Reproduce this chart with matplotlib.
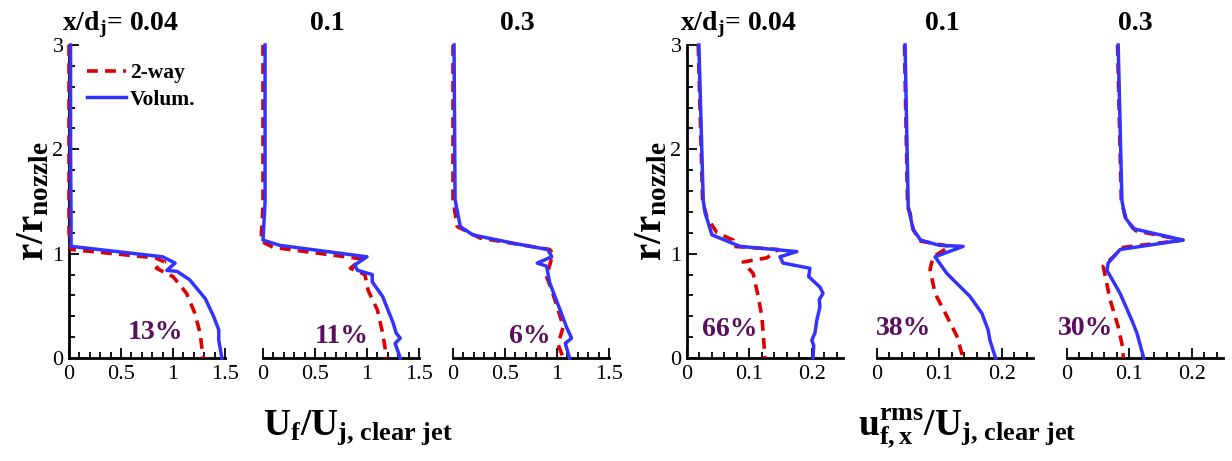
import numpy as np
import matplotlib
matplotlib.use("Agg")
from matplotlib import pyplot as plt
from matplotlib.ticker import MultipleLocator

plt.rcParams['font.family'] = ['Liberation Serif', 'DejaVu Serif']
plt.rcParams['mathtext.fontset'] = 'custom'
plt.rcParams['mathtext.rm'] = 'Liberation Serif:bold'
plt.rcParams['mathtext.it'] = 'Liberation Serif:bold'
plt.rcParams['mathtext.bf'] = 'Liberation Serif:bold'
plt.rcParams['mathtext.default'] = 'regular'

# stations x/d_j
stations = ['0.04', '0.1', '0.3']

# mean velocity U_f/U_j (value, r/r_nozzle)
mean_004_twoway = [(0.0, 3.0), (0.0, 1.2), (0.02, 1.04), (0.83, 0.96), (0.92, 0.92), (0.84, 0.86),
                   (1.0, 0.78), (1.13, 0.62), (1.21, 0.43), (1.26, 0.24), (1.29, 0.0)]
mean_004_volum = [(0.015, 3.0), (0.015, 2.0), (0.02, 1.3), (0.02, 1.07), (0.90, 0.97), (1.02, 0.91),
                  (0.94, 0.84), (1.04, 0.83), (1.16, 0.75), (1.31, 0.57), (1.39, 0.40), (1.44, 0.27),
                  (1.44, 0.17), (1.47, 0.0)]
mean_01_twoway = [(0.0, 3.0), (0.0, 1.45), (-0.02, 1.12), (0.1, 1.06), (0.95, 0.95), (0.84, 0.86),
                  (0.98, 0.80), (1.01, 0.65), (1.10, 0.46), (1.15, 0.24), (1.19, 0.0)]
mean_01_volum = [(0.02, 3.0), (0.02, 1.5), (0.0, 1.13), (0.16, 1.08), (1.0, 0.97), (0.88, 0.89),
                 (0.91, 0.84), (1.05, 0.80), (1.05, 0.73), (1.15, 0.59), (1.19, 0.49), (1.25, 0.34),
                 (1.28, 0.24), (1.32, 0.19), (1.27, 0.14), (1.32, 0.0)]
mean_03_twoway = [(0.0, 3.0), (0.0, 1.52), (0.04, 1.26), (0.26, 1.15), (0.93, 1.04), (0.96, 1.0),
                  (0.90, 0.78), (0.95, 0.65), (1.03, 0.40), (1.06, 0.30), (1.01, 0.13), (1.06, 0.0)]
mean_03_volum = [(0.01, 3.0), (0.02, 1.52), (0.07, 1.26), (0.19, 1.18), (0.58, 1.10), (0.91, 1.04),
                 (0.95, 0.97), (0.81, 0.91), (0.90, 0.88), (0.93, 0.72), (0.98, 0.59), (1.03, 0.46),
                 (1.09, 0.30), (1.14, 0.19), (1.08, 0.14), (1.12, 0.0)]

# rms velocity u_f,x^rms/U_j
rms_004_twoway = [(0.018, 3.0), (0.025, 1.5), (0.032, 1.35), (0.048, 1.2), (0.074, 1.13), (0.074, 1.07),
                  (0.146, 1.04), (0.128, 0.96), (0.09, 0.92), (0.106, 0.81), (0.113, 0.62),
                  (0.12, 0.40), (0.122, 0.24), (0.125, 0.0)]
rms_004_volum = [(0.019, 3.0), (0.026, 1.51), (0.029, 1.39), (0.040, 1.18), (0.085, 1.07), (0.176, 1.02),
                 (0.149, 0.97), (0.154, 0.91), (0.197, 0.86), (0.195, 0.78), (0.213, 0.68),
                 (0.218, 0.62), (0.212, 0.56), (0.213, 0.49), (0.208, 0.36), (0.205, 0.24),
                 (0.200, 0.17), (0.203, 0.12), (0.202, 0.0)]
rms_01_twoway = [(0.044, 3.0), (0.049, 1.45), (0.053, 1.39), (0.058, 1.23), (0.07, 1.12), (0.117, 1.07),
                 (0.09, 0.97), (0.085, 0.85), (0.093, 0.62), (0.112, 0.40), (0.128, 0.21), (0.138, 0.0)]
rms_01_volum = [(0.045, 3.0), (0.050, 1.45), (0.058, 1.23), (0.07, 1.13), (0.10, 1.08), (0.138, 1.07),
                (0.093, 0.97), (0.112, 0.81), (0.117, 0.78), (0.149, 0.59), (0.168, 0.43),
                (0.178, 0.27), (0.181, 0.17), (0.190, 0.0)]
rms_03_twoway = [(0.081, 3.0), (0.087, 1.5), (0.095, 1.33), (0.11, 1.22), (0.186, 1.13), (0.09, 1.06),
                 (0.058, 0.88), (0.069, 0.56), (0.082, 0.30), (0.09, 0.08), (0.09, 0.0)]
rms_03_volum = [(0.082, 3.0), (0.088, 1.51), (0.093, 1.35), (0.106, 1.24), (0.186, 1.13), (0.085, 1.04),
                (0.066, 0.91), (0.064, 0.84), (0.085, 0.62), (0.104, 0.36), (0.112, 0.24), (0.123, 0.0)]

mean_pct = ['13%', '11%', '6%']
rms_pct = ['66%', '38%', '30%']
mean_pct_pos = [(0.83, 0.24), (0.76, 0.21), (0.74, 0.21)]
rms_pct_pos = [(0.069, 0.27), (0.042, 0.28), (0.029, 0.28)]

mean_ticks = [0, 0.5, 1, 1.5]
mean_ticklabels = ['0', '0.5', '1', '1.5']
rms_ticks = [0, 0.1, 0.2]
rms_ticklabels = ['0', '0.1', '0.2']
r_ticks = [0, 1, 2, 3]

W, H = 1232, 461
fig = plt.figure(figsize=(W / 100, H / 100), dpi=100)

RED = '#dd0000'
BLUE = '#3333ff'
PURPLE = '#5a0f5e'

lefts = [69, 263, 453, 687, 877, 1067]
title_x = [0.33, 0.41, 0.41, 0.33, 0.42, 0.44]
ax_w, y_top, y_bot = 156, 45, 358

groups = [
    (mean_004_twoway, mean_004_volum), (mean_01_twoway, mean_01_volum), (mean_03_twoway, mean_03_volum),
    (rms_004_twoway, rms_004_volum), (rms_01_twoway, rms_01_volum), (rms_03_twoway, rms_03_volum),
]

axes = []
for i, (two, vol) in enumerate(groups):
    ax = fig.add_axes([lefts[i] / W, (H - y_bot) / H, ax_w / W, (y_bot - y_top) / H])
    axes.append(ax)
    two = np.array(two)
    vol = np.array(vol)
    ax.plot(two[:, 0], two[:, 1], color=RED, lw=2.6, ls=(0, (3, 2)), clip_on=False, zorder=3, label='2-way')
    ax.plot(vol[:, 0], vol[:, 1], color=BLUE, lw=2.5, clip_on=False, zorder=4, label='Volum.')
    ax.set_ylim(0, 3)
    if i < 3:
        ax.set_xlim(0, 1.5)
        ax.set_xticks(mean_ticks)
        ax.set_xticklabels(mean_ticklabels)
        ax.xaxis.set_minor_locator(MultipleLocator(0.1))
        pct, pos = mean_pct[i], mean_pct_pos[i]
    else:
        ax.set_xlim(0, 0.25)
        ax.set_xticks(rms_ticks)
        ax.set_xticklabels(rms_ticklabels)
        ax.xaxis.set_minor_locator(MultipleLocator(0.02))
        pct, pos = rms_pct[i - 3], rms_pct_pos[i - 3]
    ax.text(pos[0], pos[1], pct, color=PURPLE, fontsize=20, fontweight='bold', ha='center', va='center')
    title = stations[i % 3] if i % 3 else r'$x/d_j$= ' + stations[0]
    ax.text(title_x[i], 1.048, title, transform=ax.transAxes, fontsize=20, fontweight='bold',
            ha='center', va='baseline')

    ax.patch.set_visible(False)
    for s in ['top', 'right']:
        ax.spines[s].set_visible(False)
    ax.spines['bottom'].set_linewidth(2)
    ax.tick_params(axis='both', which='both', direction='in', labelsize=16, width=1.3)
    ax.tick_params(axis='x', which='major', length=7, pad=5)
    ax.tick_params(axis='x', which='minor', length=4)
    if i % 3 == 0:
        ax.spines['left'].set_linewidth(2)
        ax.set_yticks(r_ticks)
        ax.yaxis.set_minor_locator(MultipleLocator(0.2))
        ax.tick_params(axis='y', which='major', length=7, pad=4)
        ax.tick_params(axis='y', which='minor', length=4)
        ax.set_ylabel(r'$r/r_{nozzle}$', fontsize=28, fontweight='bold', labelpad=0)
    else:
        ax.spines['left'].set_visible(False)
        ax.set_yticks([])

axes[0].legend(loc='upper left', bbox_to_anchor=(0.06, 0.97), frameon=False, handlelength=1.8,
               handletextpad=0.2, labelspacing=0.3, borderaxespad=0,
               prop={'family': 'Liberation Serif', 'weight': 'bold', 'size': 15.5})

fig.text(358 / W, 1 - 428 / H, r'$U_f/U_{\text{j, clear jet}}$', fontsize=27, fontweight='bold',
         ha='center', va='center')
fig.text(967 / W, 1 - 428 / H, r'$u_{f,x}^{rms}/U_{\text{j, clear jet}}$', fontsize=27, fontweight='bold',
         ha='center', va='center')

fig.savefig('out.png', dpi=100)
